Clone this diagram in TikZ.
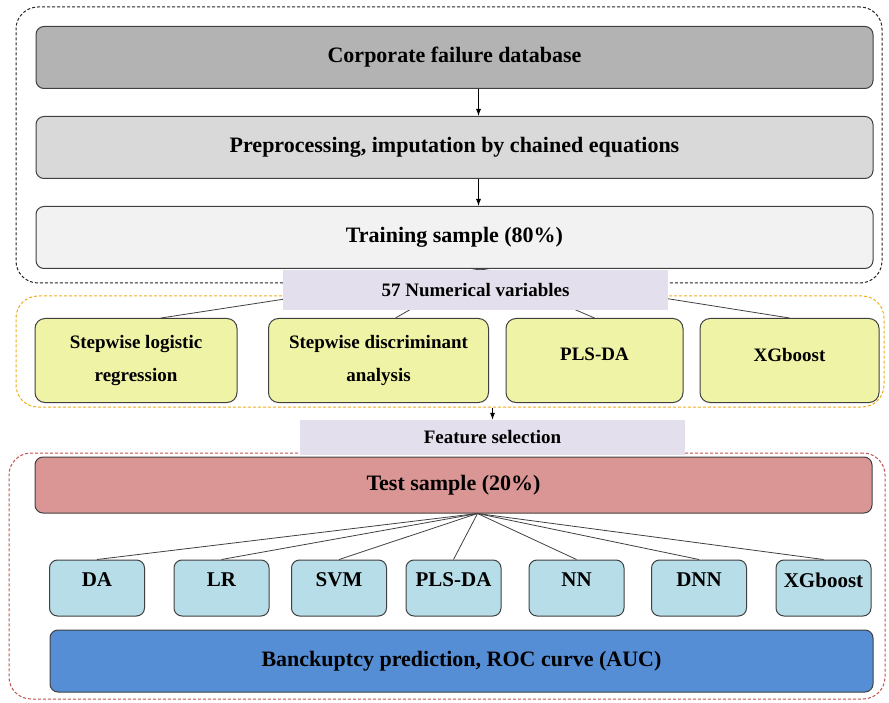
\documentclass[tikz,border=0pt]{standalone}
\usepackage{fontspec}
\setmainfont{Liberation Serif}
\usetikzlibrary{arrows.meta,positioning}
\definecolor{DarkGray}{HTML}{B3B3B3}
\definecolor{MidGray}{HTML}{D9D9D9}
\definecolor{PaleGray}{HTML}{F2F2F2}
\definecolor{Lavender}{HTML}{E4DFEC}
\definecolor{Lime}{HTML}{EFF3A6}
\definecolor{Rose}{HTML}{D99694}
\definecolor{SkyBlue}{HTML}{B7DEE8}
\definecolor{RoyalBlue}{HTML}{558ED5}
\definecolor{EdgeGray}{HTML}{404040}
\definecolor{GoldDash}{HTML}{F0AE1E}
\definecolor{RedDash}{HTML}{C0504D}

\begin{document}
\begin{tikzpicture}[
      x=1pt, y=-1pt,
      stage/.style={
        rounded corners=8pt,
        minimum width=837pt,
        minimum height=62pt,
        draw=EdgeGray,
        line width=1pt,
        font=\fontsize{22}{26}\selectfont\bfseries,
        align=center
      },
      method/.style={
        rounded corners=10pt,
        minimum height=84pt,
        draw=EdgeGray,
        line width=1pt,
        fill=Lime,
        align=center,
        font=\fontsize{19}{33}\selectfont\bfseries
      },
      model/.style={
        rounded corners=8pt,
        minimum width=95pt,
        minimum height=56pt,
        draw=EdgeGray,
        line width=1pt,
        fill=SkyBlue,
        text depth=16pt,
        font=\fontsize{21}{25}\selectfont\bfseries
      },
      tag/.style={fill=Lavender, minimum width=385pt, font=\fontsize{19}{23}\selectfont\bfseries},
      group/.style={rounded corners=22pt, dash pattern=on 3pt off 2pt, line width=1pt},
      flow/.style={-{Latex[length=7pt,width=5pt]}, draw=black, line width=0.8pt},
      link/.style={draw=EdgeGray, line width=0.8pt},
      node distance=27pt
    ]
      \useasboundingbox (0,0) rectangle (889,703);
      % dashed groups
      \node[group, draw=black!85, minimum width=866pt, minimum height=276pt] (prepgroup) at (449,145) {};
      \node[group, draw=GoldDash, minimum width=868pt, minimum height=111pt] (selgroup) at (450,351.5) {};
      \node[group, draw=RedDash, minimum width=876pt, minimum height=246pt] (evalgroup) at (447,576) {};
      % training part
      \node[stage, fill=DarkGray] (database) at (454.5,57.5) {Corporate failure database};
      \node[stage, fill=MidGray, below=of database] (preproc) {Preprocessing, imputation by chained equations};
      \node[stage, fill=PaleGray, below=of preproc] (training) {Training sample (80\%)};
      \draw[flow] ([xshift=24pt]database.south) -- ([xshift=24pt]preproc.north);
      \draw[flow] ([xshift=24pt]preproc.south) -- ([xshift=24pt]training.north);
      % feature selection methods
      \node[method, minimum width=202pt] (steplr) at (136,360.5) {Stepwise logistic\\regression};
      \node[method, minimum width=220pt] (stepda) at (378.5,360.5) {Stepwise discriminant\\analysis};
      \node[method, minimum width=177pt, text depth=12pt] (plsda) at (594.5,360.5) {PLS-DA};
      \node[method, minimum width=179pt, text depth=12pt] (xgsel) at (789.5,360.5) {XGboost};
      \coordinate (trainhub) at ([xshift=26pt]training.south);
      \draw[link] (trainhub) -- ([xshift=25pt]steplr.north);
      \draw[link] (trainhub) -- ([xshift=17pt]stepda.north);
      \draw[link] (trainhub) -- (plsda.north);
      \draw[link] (trainhub) -- (xgsel.north);
      \node[tag, minimum height=40pt] (numvars) at (475.5,290) {57 Numerical variables};
      \node[tag, minimum height=35pt] (features) at (492.5,437.5) {Feature selection};
      \draw[flow] (selgroup.south -| features.north) -- (features.north);
      % test part
      \node[stage, fill=Rose, minimum height=56pt] (testset) at (453.5,485) {Test sample (20\%)};
      \node[model] (da) at (97,588) {DA};
      \node[model] (lr) at (221.5,588) {LR};
      \node[model] (svm) at (339,588) {SVM};
      \node[model] (plsdam) at (453.5,588) {PLS-DA};
      \node[model] (nn) at (576.5,588) {NN};
      \node[model] (dnn) at (699,588) {DNN};
      \node[model] (xgm) at (823.5,588) {XGboost};
      \coordinate (testhub) at ([xshift=24pt]testset.south);
      \draw[link] (testhub) -- (da.north);
      \draw[link] (testhub) -- (lr.north);
      \draw[link] (testhub) -- (svm.north);
      \draw[link] (testhub) -- (plsdam.north);
      \draw[link] (testhub) -- (nn.north);
      \draw[link] (testhub) -- (dnn.north);
      \draw[link] (testhub) -- (xgm.north);
      \node[stage, fill=RoyalBlue, minimum width=823pt] (roc) at (461.5,661) {Banckuptcy prediction, ROC curve (AUC)};
    \end{tikzpicture}
\end{document}
